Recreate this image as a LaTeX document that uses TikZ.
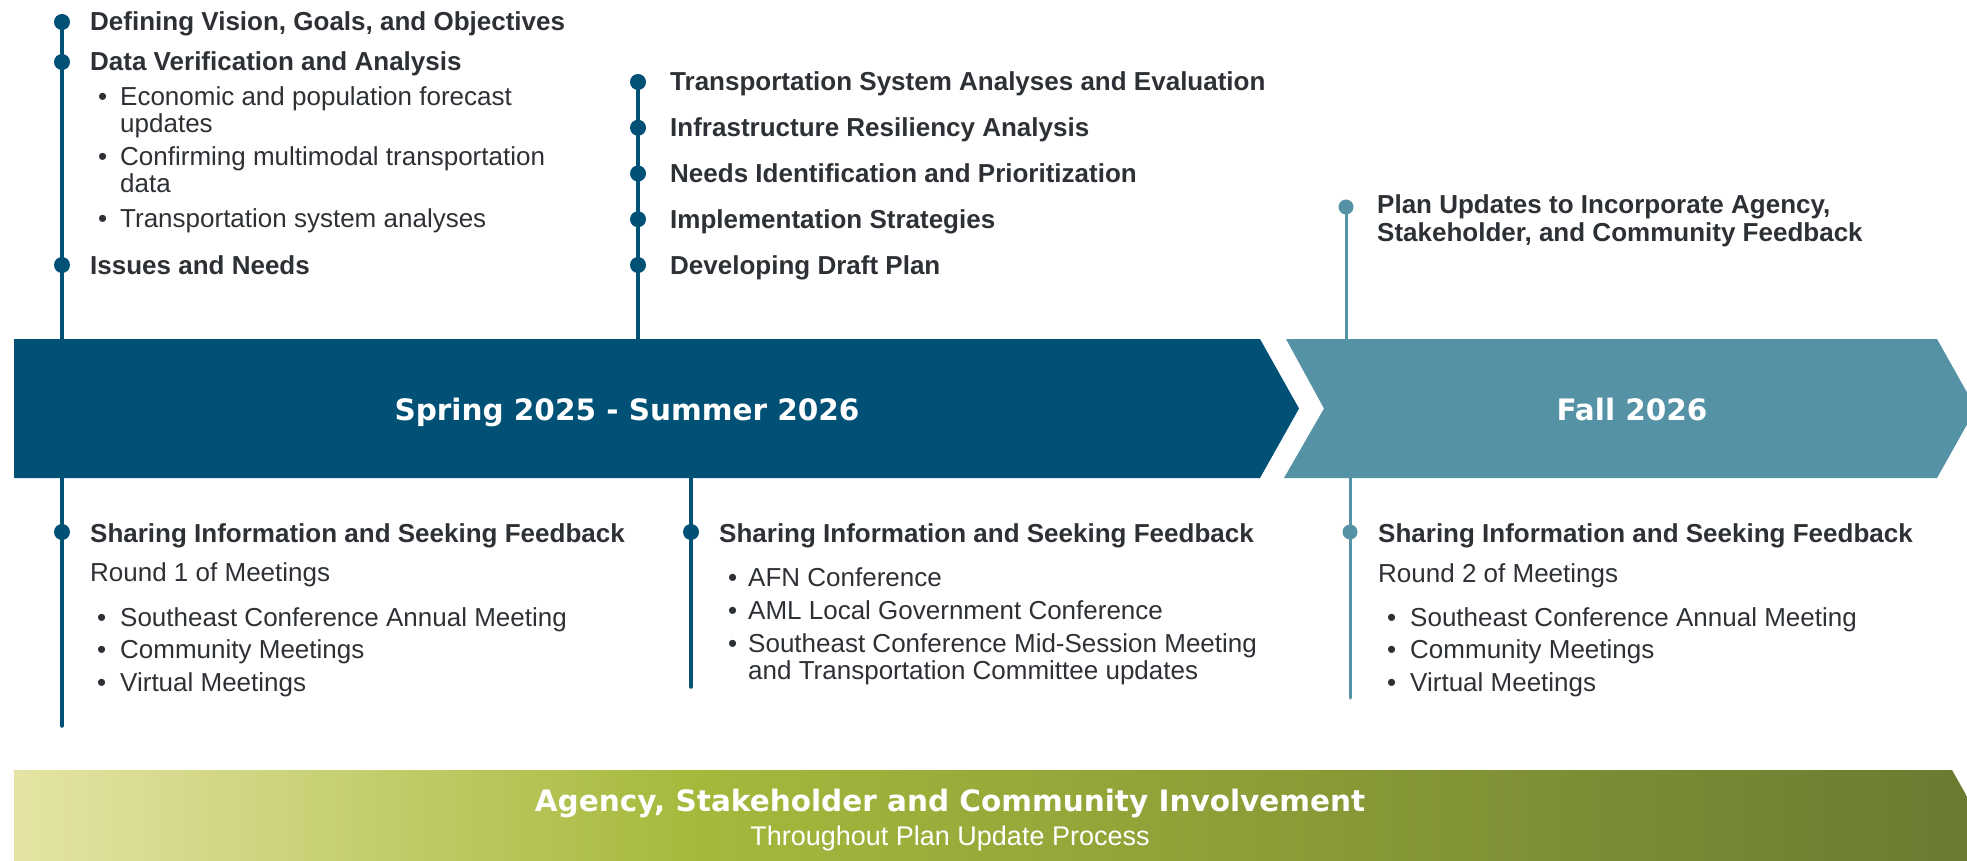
\documentclass[tikz,border=0pt]{standalone}
\usepackage{fontspec}
\setmainfont{Liberation Sans}
\newfontfamily\bandfont{DejaVu Sans}
\usetikzlibrary{positioning}
\definecolor{navy}{RGB}{0,81,117}
\definecolor{fallteal}{RGB}{85,146,166}
\definecolor{ink}{RGB}{45,49,53}
\definecolor{gA}{RGB}{229,228,165}
\definecolor{gB}{RGB}{166,185,60}
\definecolor{gC}{RGB}{104,122,48}
\pgfdeclarehorizontalshading{agency}{100bp}{color(0bp)=(gA); color(25bp)=(gA); color(42bp)=(gB); color(75bp)=(gC); color(100bp)=(gC)}
\begin{document}
\begin{tikzpicture}[x=1pt,y=-1pt]
    \tikzset{dot/.style={circle,fill=navy,inner sep=0pt,minimum size=16pt},
        fdot/.style={dot,fill=fallteal,minimum size=15pt},
        vline/.style={draw=navy,line width=3.5pt,line cap=round},
        fline/.style={draw=fallteal,line width=3pt,line cap=round},
        head/.style={anchor=base west,inner sep=0pt,text=ink,font=\fontsize{26}{27}\selectfont\bfseries},
        item/.style={anchor=base west,inner sep=0pt,text=ink,font=\fontsize{26}{27}\selectfont},
        band/.style={anchor=base,inner sep=0pt,text=white,font=\bandfont\bfseries\fontsize{29.5}{30}\selectfont}}
    \useasboundingbox (0,0) rectangle (1967,861);
    \clip (0,0) rectangle (1967,861);
    % bands
    \fill[navy] (14,339) -- (1260,339) -- (1299,408.5) -- (1260,478) -- (14,478) -- cycle;
    \fill[fallteal] (1286,339) -- (1937,339) -- (1976,408.5) -- (1937,478) -- (1284,478) -- (1324,408.5) -- cycle;
    \shade[shading=agency] (14,770) -- (1952,770) -- (2000,855) -- (1952,940) -- (14,940) -- cycle;
    \coordinate (top) at (0,339);
    \coordinate (bot) at (0,478);
    \node[band] (spring) at (627,420) {Spring 2025 - Summer 2026};
    \node[band] (fall) at (1632,420) {Fall 2026};
    \node[band] (agency) at (950,811) {Agency, Stakeholder and Community Involvement};
    \node[anchor=base,inner sep=0pt,text=white,font=\fontsize{27}{28}\selectfont] (thru) at (950,845) {Throughout Plan Update Process};
    % spring, above
    \node[dot] (d11) at (62,22) {};
    \node[dot] (d12) at (62,62) {};
    \node[dot] (d13) at (62,265) {};
    \draw[vline] (d11.center) -- (d11 |- top);
    \node[head] (h11) at (90,31) {Defining Vision, Goals, and Objectives};
    \node[head] (h12) at (90,71) {Data Verification and Analysis};
    \node[item] at (98,106) {•};
    \node[item] (i11) at (120,106) {Economic and population forecast};
    \node[item] at (120,133) {updates};
    \node[item] at (98,166) {•};
    \node[item] (i12) at (120,166) {Confirming multimodal transportation};
    \node[item] at (120,193) {data};
    \node[item] at (98,227) {•};
    \node[item] (i13) at (120,227) {Transportation system analyses};
    \node[head] (h13) at (90,274) {Issues and Needs};
    \foreach \i/\txt in {0/Transportation System Analyses and Evaluation,
        1/Infrastructure Resiliency Analysis,
        2/Needs Identification and Prioritization,
        3/Implementation Strategies,
        4/Developing Draft Plan}{
        \node[dot] (d2\i) at (638,{82+45.75*\i}) {};
        \node[head] (h2\i) at (670,{91+45.75*\i}) {\txt};
    }
    \draw[vline] (d20.center) -- (d20 |- top);
    % fall, above
    \node[fdot] (d31) at (1346,207) {};
    \draw[fline] (d31.center) -- (d31 |- top);
    \node[head] (h31) at (1377,214) {Plan Updates to Incorporate Agency,};
    \node[head] at (1377,241) {Stakeholder, and Community Feedback};
    % below
    \coordinate (e14) at (62,726);
    \coordinate (e24) at (691,687);
    \coordinate (e34) at (1350,698);
    \draw[vline] (e14 |- bot) -- (e14);
    \draw[vline] (e24 |- bot) -- (e24);
    \draw[fline] (e34 |- bot) -- (e34);
    \node[dot] (d14) at (62,532) {};
    \node[dot] (d24) at (691,532) {};
    \node[fdot] (d34) at (1350,532) {};
    \node[head] (h14) at (90,542) {Sharing Information and Seeking Feedback};
    \node[item] at (90,581) {Round 1 of Meetings};
    \node[head] (h24) at (719,542) {Sharing Information and Seeking Feedback};
    \node[head] (h34) at (1378,542) {Sharing Information and Seeking Feedback};
    \node[item] at (1378,582) {Round 2 of Meetings};
    \foreach \x/\c in {97/1,1387/3}{
        \foreach \y/\txt in {626/Southeast Conference Annual Meeting,658/Community Meetings,691/Virtual Meetings}{
            \node[item] at (\x,\y) {•};
            \node[item] at (\x+23,\y) {\txt};
        }
    }
    \node[item] at (728,586) {•};
    \node[item] (i21) at (748,586) {AFN Conference};
    \node[item] at (728,619) {•};
    \node[item] (i22) at (748,619) {AML Local Government Conference};
    \node[item] at (728,652) {•};
    \node[item] (i23) at (748,652) {Southeast Conference Mid-Session Meeting};
    \node[item] at (748,679) {and Transportation Committee updates};
\end{tikzpicture}
\end{document}
